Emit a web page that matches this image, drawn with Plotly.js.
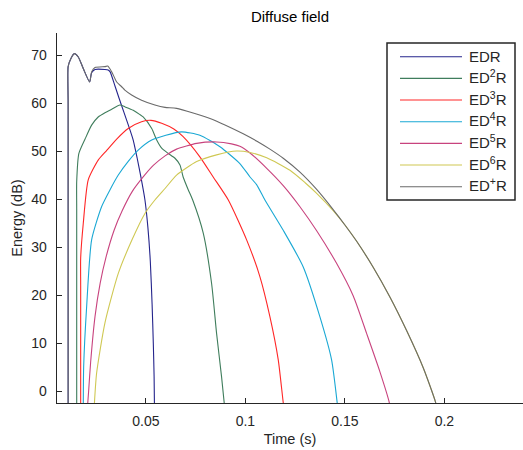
<!DOCTYPE html>
<html>
<head>
<meta charset="utf-8">
<script src="https://cdn.plot.ly/plotly-3.0.1.min.js"></script>
<style>
  html, body { margin: 0; padding: 0; background: #fff; }
  #chart { width: 523px; height: 450px; }
</style>
</head>
<body>
<div id="chart"></div>
<script>
// Energy decay curves in a diffuse field: time (s) vs energy (dB)
var seriesNames = ['EDR', 'ED<sup>2</sup>R', 'ED<sup>3</sup>R', 'ED<sup>4</sup>R',
                   'ED<sup>5</sup>R', 'ED<sup>6</sup>R', 'ED<sup>+</sup>R'];

var edrT  = [0.0109, 0.0109, 0.0109, 0.0123, 0.0140, 0.0160, 0.0185, 0.0217, 0.0227, 0.0244, 0.0294, 0.0310,
             0.0320, 0.0344, 0.0365, 0.0390, 0.0415, 0.0436, 0.0456, 0.0475, 0.0495, 0.0510,
             0.0522, 0.0531, 0.0537, 0.0541, 0.0543];
var edrE  = [-4, 60.0, 67.6, 69.3, 70.3, 69.6, 67.2, 64.4, 66.3, 67.0, 67.0, 66.9,
             66.5, 63.6, 61.0, 58.0, 55.0, 52.3, 48.5, 44.5, 39.8, 34.0,
             27.0, 18.0, 10.0, 3.0, -4];

var ed2T  = [0.0152, 0.0152, 0.0152, 0.0163, 0.0194, 0.0227, 0.0260, 0.0294, 0.0328, 0.0369, 0.0395,
             0.0436, 0.0470, 0.0486, 0.0529, 0.0554, 0.0579, 0.0612, 0.0646, 0.0671, 0.0687,
             0.0713, 0.0735, 0.0788, 0.0830, 0.0855, 0.0880, 0.0897];
var ed2E  = [-4, 38.0, 43.6, 49.5, 52.5, 55.4, 57.1, 58.0, 58.7, 59.6, 59.2,
             58.5, 57.6, 57.1, 54.7, 52.3, 50.6, 49.5, 48.5, 47.1, 44.6,
             41.9, 39.8, 32.9, 22.4, 12.0, 3.0, -4];

var ed3T  = [0.0172, 0.0172, 0.0172, 0.0185, 0.0210, 0.0260, 0.0300, 0.0353, 0.0411, 0.0478, 0.0525,
             0.0579, 0.0640, 0.0687, 0.0771, 0.0838, 0.0914, 0.1006, 0.1073, 0.1123, 0.1165,
             0.1190, 0.1196];
var ed3E  = [-4, 22.0, 27.7, 34.9, 44.0, 48.1, 50.0, 52.5, 54.7, 56.1, 56.4,
             55.8, 54.6, 53.0, 48.8, 44.6, 39.8, 31.5, 23.8, 15.5, 6.5,
             -2.4, -4];

var ed4T  = [0.0185, 0.0187, 0.0202, 0.0227, 0.0277, 0.0319, 0.0361, 0.0410, 0.0461, 0.0529,
             0.0600, 0.0679, 0.0771, 0.0872, 0.0972, 0.1023, 0.1056, 0.1098, 0.1190, 0.1290,
             0.1374, 0.1433, 0.1461, 0.1465];
var ed4E  = [-4, 5.0, 17.6, 31.5, 38.4, 41.9, 45.0, 47.8, 50.2, 52.3,
             53.3, 54.0, 53.3, 50.9, 47.4, 44.6, 43.0, 39.8, 33.5, 25.9,
             15.5, 6.5, -2.4, -4];

var ed5T  = [0.0205, 0.0212, 0.0222, 0.0244, 0.0270, 0.0300, 0.0340, 0.0380, 0.0430, 0.0486,
             0.0537, 0.0596, 0.0654, 0.0755, 0.0855, 0.0930, 0.0972, 0.1023, 0.1107, 0.1190,
             0.1274, 0.1358, 0.1458, 0.1542, 0.1609, 0.1676, 0.1723, 0.1728];
var ed5E  = [-4, 0.0, 6.0, 15.5, 22.5, 28.0, 33.5, 37.5, 41.5, 44.6,
             47.0, 49.0, 50.4, 51.6, 51.9, 51.5, 51.0, 49.6, 46.4, 42.8,
             38.4, 33.4, 26.6, 19.8, 12.0, 4.0, -2.4, -4];

var ed6T  = [0.0239, 0.0252, 0.0294, 0.0361, 0.0430, 0.0495, 0.0545, 0.0596, 0.0654, 0.0755,
             0.0855, 0.0956, 0.1023, 0.1107, 0.1224, 0.1300, 0.1358, 0.1441, 0.1500, 0.1559,
             0.1642, 0.1726, 0.1810, 0.1894, 0.1956, 0.1962];
var ed6E  = [-4, 3.7, 14.2, 24.5, 31.5, 37.0, 39.8, 42.2, 45.0, 47.8,
             49.2, 50.0, 49.7, 48.6, 46.0, 43.4, 41.2, 37.6, 34.6, 31.2,
             25.8, 19.6, 12.6, 4.8, -2.4, -4];

var edpT  = [0.0109, 0.0109, 0.0109, 0.0123, 0.0140, 0.0160, 0.0185, 0.0217, 0.0227, 0.0244, 0.0294, 0.0308,
             0.0328, 0.0353, 0.0378, 0.0394, 0.0428, 0.0478, 0.0545, 0.0596, 0.0654, 0.0822,
             0.0900, 0.0989, 0.1060, 0.1123, 0.1190, 0.1274, 0.1358, 0.1441, 0.1500, 0.1559,
             0.1642, 0.1726, 0.1810, 0.1894, 0.1956, 0.1962];
var edpE  = [-4, 60.0, 67.6, 69.3, 70.3, 69.6, 67.2, 64.4, 66.5, 67.4, 67.6, 67.7,
             66.5, 64.4, 63.4, 62.7, 61.7, 60.6, 59.6, 59.1, 58.9, 56.8,
             55.4, 53.6, 52.0, 50.4, 48.5, 45.6, 42.0, 37.8, 34.6, 31.2,
             25.8, 19.6, 12.6, 4.8, -2.4, -4];

var xTicks = [0.05, 0.1, 0.15, 0.2];
var xTickText = ['0.05', '0.1', '0.15', '0.2'];
var yTicks = [0, 10, 20, 30, 40, 50, 60, 70];

var xs = [edrT, ed2T, ed3T, ed4T, ed5T, ed6T, edpT];
var ys = [edrE, ed2E, ed3E, ed4E, ed5E, ed6E, edpE];
var colors = ['#24248c', '#3f7d5c', '#ff2626', '#1aa8d4', '#c8437e', '#cfc853', '#6a6a6a'];

var traces = xs.map(function (x, i) {
  return {
    x: x, y: ys[i], name: seriesNames[i], type: 'scatter', mode: 'lines',
    line: { color: colors[i], width: 1.1, shape: 'spline', smoothing: 0.6 }
  };
});

// Boxed legend in the upper right, with long line samples
var W = 523, H = 450, M = { l: 57, r: 0, t: 33, b: 47 };
var plotW = W - M.l - M.r, plotH = H - M.t - M.b;
function px2x(px) { return (px - M.l) / plotW; }
function py2y(py) { return (H - M.b - py) / plotH; }

var legBox = { left: 387, right: 515, top: 43, bottom: 200 };
var legRow0 = 56.7, legRowStep = 21.67;
var legLine = { x0: 400, x1: 462 }, legTextX = 467;

var shapes = [{
  type: 'rect', xref: 'paper', yref: 'paper', layer: 'above',
  x0: px2x(legBox.left), x1: px2x(legBox.right),
  y0: py2y(legBox.bottom), y1: py2y(legBox.top),
  line: { color: '#262626', width: 1.5 }, fillcolor: '#fff'
}];
var annotations = [];
seriesNames.forEach(function (name, i) {
  var yy = py2y(legRow0 + i * legRowStep);
  shapes.push({
    type: 'line', xref: 'paper', yref: 'paper', layer: 'above',
    x0: px2x(legLine.x0), x1: px2x(legLine.x1), y0: yy, y1: yy,
    line: { color: colors[i], width: 1.1 }
  });
  annotations.push({
    xref: 'paper', yref: 'paper', x: px2x(legTextX), y: yy,
    xanchor: 'left', yanchor: 'middle', showarrow: false,
    text: name, font: { family: 'Liberation Sans, Arial, sans-serif', size: 15, color: '#262626' },
    yshift: name.indexOf('<sup>') >= 0 ? 2 : 0
  });
});

var font = 'Liberation Sans, Arial, sans-serif';
var layout = {
  width: W, height: H,
  margin: M,
  paper_bgcolor: '#fff', plot_bgcolor: '#fff',
  font: { family: font, size: 14, color: '#262626' },
  title: { text: 'Diffuse field', font: { family: font, size: 15, color: '#000' },
           x: 0.5, xref: 'paper', y: 0.962, yanchor: 'middle' },
  xaxis: {
    range: [0.0053, 0.2395], showgrid: false, zeroline: false,
    showline: true, linecolor: '#262626', linewidth: 1.3,
    ticks: 'inside', ticklen: 5, tickcolor: '#262626', tickwidth: 1,
    tickvals: xTicks, ticktext: xTickText, ticklabelstandoff: 5,
    title: { text: 'Time (s)', font: { family: font, size: 14.5, color: '#262626' }, standoff: 5 }
  },
  yaxis: {
    range: [-2.5, 74.6], showgrid: false, zeroline: false,
    showline: true, linecolor: '#262626', linewidth: 1.3,
    ticks: 'inside', ticklen: 5, tickcolor: '#262626', tickwidth: 1,
    tickvals: yTicks, ticklabelstandoff: 6,
    title: { text: 'Energy (dB)', font: { family: font, size: 14.5, color: '#262626' }, standoff: 5 }
  },
  showlegend: false,
  shapes: shapes,
  annotations: annotations
};

Plotly.newPlot('chart', traces, layout, { displayModeBar: false, staticPlot: true });
</script>
</body>
</html>
